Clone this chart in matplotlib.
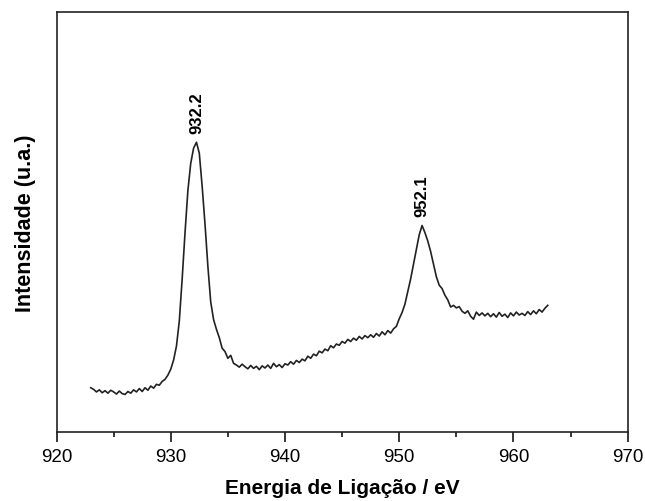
import numpy as np
import matplotlib
matplotlib.use("Agg")
import matplotlib.pyplot as plt
from matplotlib.ticker import MultipleLocator

plt.rcParams['font.family'] = ['Liberation Sans', 'DejaVu Sans']

# Cu 2p spectrum, binding energy grid 923-963 eV in 0.25 eV steps
energy_start = 923.0
energy_step = 0.25
intensity = [
    10.6, 10.2, 9.6, 10.1, 9.4, 9.9, 9.3, 10.0,
    9.6, 9.1, 9.8, 9.2, 9.0, 9.7, 9.3, 10.1,
    9.6, 10.4, 9.7, 10.6, 10.0, 11.0, 10.5, 11.4,
    11.2, 12.1, 12.6, 13.6, 15.0, 17.2, 20.5, 26.5,
    36.5, 47.5, 57.5, 64.0, 67.6, 69.0, 66.4, 58.5,
    49.5, 39.5, 31.0, 26.8, 24.5, 22.5, 20.0, 19.2,
    17.6, 18.3, 16.4, 16.0, 15.5, 16.2, 15.6, 15.1,
    15.9, 15.2, 15.7, 14.9, 15.8, 15.3, 16.0, 15.2,
    16.4, 15.6, 16.1, 15.4, 16.3, 16.0, 16.8, 16.2,
    17.1, 16.6, 17.4, 17.0, 18.1, 17.6, 18.6, 18.2,
    19.3, 18.9, 19.8, 19.4, 20.6, 20.1, 21.0, 20.7,
    21.6, 21.2, 22.1, 21.6, 22.4, 21.9, 22.8, 22.2,
    23.0, 22.5, 23.2, 22.6, 23.5, 22.9, 23.9, 23.2,
    24.2, 23.6, 24.6, 25.2, 27.0, 28.5, 30.5, 33.5,
    36.5, 40.0, 43.5, 47.0, 49.2, 47.5, 45.5, 43.0,
    40.0, 37.0, 35.0, 34.2, 32.6, 31.5, 29.8, 30.2,
    29.6, 29.9, 28.8, 28.3, 28.9, 27.6, 26.9, 28.6,
    27.8, 28.4, 27.7, 28.3, 27.5, 28.2, 27.4, 28.5,
    27.6, 28.1, 27.3, 28.4, 27.7, 28.6, 27.9, 28.3,
    27.8, 28.7, 28.0, 28.9, 28.2, 29.2, 28.6, 29.5,
    30.2,
]
energy = energy_start + energy_step * np.arange(len(intensity))

# peak positions (eV) marked on the plot
peak_labels = ["932.2", "952.1"]

fig = plt.figure(figsize=(6.45, 5.02), dpi=100)
ax = fig.add_axes([0.0876, 0.1369, 0.8856, 0.8372])

ax.plot(energy, intensity, color='#222222', lw=1.2)

# label each peak at its maximum
for lab in peak_labels:
    e0 = float(lab)
    sel = np.abs(energy - e0) < 1.0
    i_pk = np.argmax(np.where(sel, intensity, -np.inf))
    ax.annotate(lab, xy=(energy[i_pk], intensity[i_pk]), xytext=(0, 6.5),
                textcoords='offset points', rotation=90, ha='center', va='bottom',
                fontsize=12, fontweight='bold')

ax.set_xlim(920, 970)
ax.set_ylim(0, 100)
ax.xaxis.set_major_locator(MultipleLocator(10))
ax.xaxis.set_minor_locator(MultipleLocator(5))
ax.set_yticks([])
ax.tick_params(axis='x', which='major', direction='out', length=7, width=1.1,
               labelsize=13.5, pad=4)
ax.tick_params(axis='x', which='minor', direction='out', length=3.5, width=1.1)
for sp in ax.spines.values():
    sp.set_linewidth(1.2)
    sp.set_color('#222222')

ax.set_xlabel('Energia de Ligação / eV', fontsize=15, fontweight='bold', labelpad=10)
ax.set_ylabel('Intensidade (u.a.)', fontsize=15.5, fontweight='bold', labelpad=15)

fig.savefig('out.png', dpi=100)
